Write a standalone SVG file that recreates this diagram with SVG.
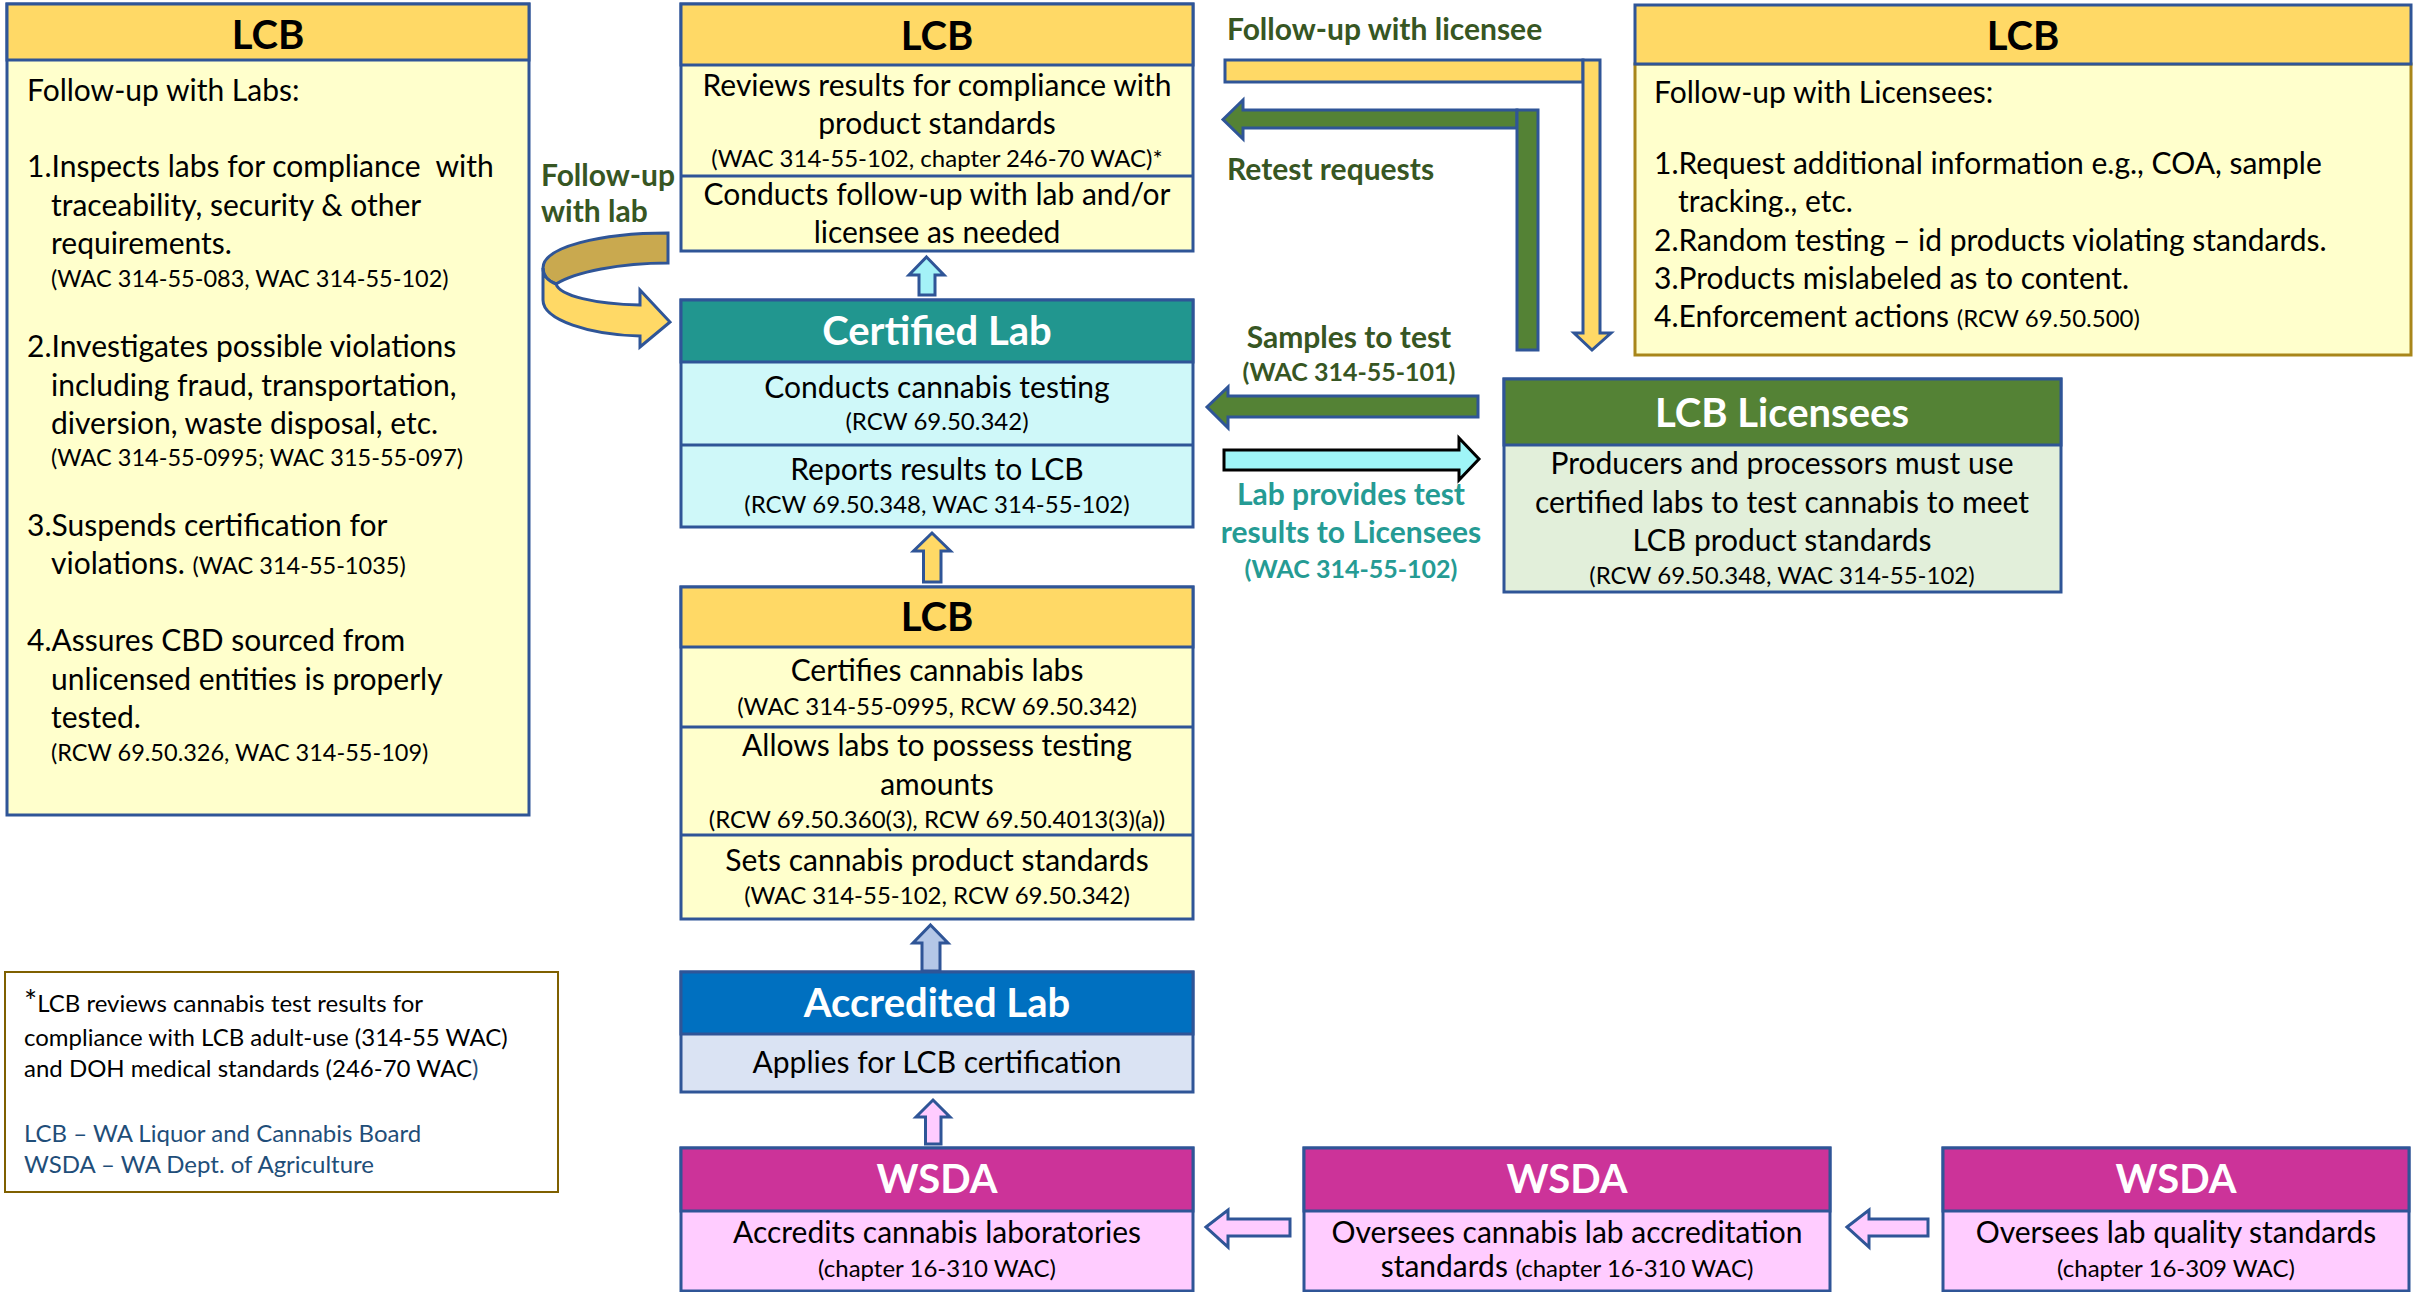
<svg xmlns="http://www.w3.org/2000/svg" width="2423" height="1292" viewBox="0 0 2423 1292">
<style>
text{font-family:Lato,"Liberation Sans",sans-serif;fill:#000}
.t{font-size:30px}
.s{font-size:24px}
.sl{font-size:23.5px}
.fn{font-size:24px}
.c{text-anchor:middle}
.hdr{font-size:40px;font-weight:700;text-anchor:middle}
.w{fill:#fff}
.lbl{font-size:30px;font-weight:700;fill:#375623}
.lbls{font-size:25px;font-weight:700;fill:#375623}
.teal{font-size:30px;font-weight:700;fill:#259b94}
.teals{font-size:25px;font-weight:700;fill:#259b94}
.bx{stroke:#2f5597;stroke-width:3}
.lcbh{fill:#ffd966}
.lcbb{fill:#ffffcc}
.ar{stroke:#2f5597;stroke-width:3;stroke-linejoin:miter}
.blue{fill:#1f4e79}
</style>

<g id="connectors">
  <!-- follow-up with lab curved arrow -->
  <path class="ar" d="M668,233 C600,233 543,247 543,268 C543,276 548,281 556,284 C575,272 620,263 668,263 Z" fill="#c9a94f"/>
  <path class="ar" d="M543,268 L543,300 C543,320 590,335 640,336 L640,347 L670,322 L640,290 L640,305 C595,304 560,296 556,284 C548,281 543,276 543,268 Z" fill="#ffd966"/>
  <!-- follow-up with licensee yellow L arrow -->
  <rect class="ar" x="1225" y="60" width="358" height="22" fill="#ffd966"/>
  <polygon class="ar" points="1583,60 1600,60 1600,333 1611,333 1592,350 1574,333 1583,333" fill="#ffd966"/>
  <!-- retest requests green L arrow -->
  <polygon class="ar" points="1223,119.5 1243,100 1243,110 1517,110 1517,128 1243,128 1243,139" fill="#548235"/>
  <rect class="ar" x="1517" y="110" width="21" height="240" fill="#548235"/>
  <!-- samples to test -->
  <polygon class="ar" points="1207,407 1228,387 1228,396 1478,396 1478,417 1228,417 1228,428" fill="#548235"/>
  <!-- lab provides results -->
  <polygon points="1224,450 1459,450 1459,438 1479,459 1459,480 1459,470 1224,470" fill="#9ff5f7" stroke="#000" stroke-width="3"/>
  <!-- vertical up arrows -->
  <polygon class="ar" points="926.5,257 944,275 935,275 935,295 919,295 919,275 909,275" fill="#a4f2f7"/>
  <polygon class="ar" points="932,533 950.5,551 941,551 941,582 923.5,582 923.5,551 913.5,551" fill="#ffd966"/>
  <polygon class="ar" points="930.5,925 948,943 940,943 940,971 922,971 922,943 913,943" fill="#b4c7e7"/>
  <polygon class="ar" points="933,1100 950,1117 941,1117 941,1144 925.5,1144 925.5,1117 916,1117" fill="#ffccff"/>
  <!-- WSDA left arrows -->
  <polygon class="ar" points="1206,1227 1228,1210 1228,1219 1290,1219 1290,1236 1228,1236 1228,1247" fill="#ffccff"/>
  <polygon class="ar" points="1847,1227 1869,1210 1869,1219 1928,1219 1928,1236 1869,1236 1869,1247" fill="#ffccff"/>
  <!-- labels -->
  <text class="lbl" x="1227" y="40">Follow-up with licensee</text>
  <text class="lbl" x="1227" y="180">Retest requests</text>
  <text class="lbl" x="541" y="186">Follow-up</text>
  <text class="lbl" x="541" y="222">with lab</text>
  <text class="lbl c" x="1349" y="348">Samples to test</text>
  <text class="lbls c" x="1349" y="381">(WAC 314-55-101)</text>
  <text class="teal c" x="1351" y="505">Lab provides test</text>
  <text class="teal c" x="1351" y="543">results to Licensees</text>
  <text class="teals c" x="1351" y="578">(WAC 314-55-102)</text>
</g>

<g id="lcb-labs">
  <rect class="bx lcbb" x="7" y="4" width="522" height="811"/>
  <rect class="bx lcbh" x="7" y="4" width="522" height="56"/>
  <text class="hdr" x="268" y="49">LCB</text>
  <text class="t" x="27" y="101">Follow-up with Labs:</text>
  <text class="t" x="27" y="177">1.Inspects labs for compliance&#160; with</text>
  <text class="t" x="51" y="216">traceability, security &amp; other</text>
  <text class="t" x="51" y="254">requirements.</text>
  <text class="sl" x="51" y="287">(WAC 314-55-083, WAC 314-55-102)</text>
  <text class="t" x="27" y="357">2.Investigates possible violations</text>
  <text class="t" x="51" y="396">including fraud, transportation,</text>
  <text class="t" x="51" y="434">diversion, waste disposal, etc.</text>
  <text class="sl" x="51" y="466">(WAC 314-55-0995; WAC 315-55-097)</text>
  <text class="t" x="27" y="536">3.Suspends certification for</text>
  <text class="t" x="51" y="574">violations. <tspan class="sl">(WAC 314-55-1035)</tspan></text>
  <text class="t" x="27" y="651">4.Assures CBD sourced from</text>
  <text class="t" x="51" y="690">unlicensed entities is properly</text>
  <text class="t" x="51" y="728">tested.</text>
  <text class="sl" x="51" y="761">(RCW 69.50.326, WAC 314-55-109)</text>
</g>

<g id="lcb-review">
  <rect class="bx lcbb" x="681" y="4" width="512" height="247"/>
  <rect class="bx lcbh" x="681" y="4" width="512" height="61"/>
  <line class="bx" x1="681" y1="176" x2="1193" y2="176"/>
  <text class="hdr" x="937" y="50">LCB</text>
  <text class="t c" x="937" y="96">Reviews results for compliance with</text>
  <text class="t c" x="937" y="134">product standards</text>
  <text class="s c" x="937" y="167">(WAC 314-55-102, chapter 246-70 WAC)*</text>
  <text class="t c" x="937" y="205">Conducts follow-up with lab and/or</text>
  <text class="t c" x="937" y="243">licensee as needed</text>
</g>

<g id="certified-lab">
  <rect class="bx" x="681" y="300" width="512" height="227" fill="#cff8f9"/>
  <rect class="bx" x="681" y="300" width="512" height="62" fill="#21968f"/>
  <line class="bx" x1="681" y1="445" x2="1193" y2="445"/>
  <text class="hdr w" x="937" y="345">Certified Lab</text>
  <text class="t c" x="937" y="398">Conducts cannabis testing</text>
  <text class="s c" x="937" y="430">(RCW 69.50.342)</text>
  <text class="t c" x="937" y="480">Reports results to LCB</text>
  <text class="s c" x="937" y="513">(RCW 69.50.348, WAC 314-55-102)</text>
</g>

<g id="lcb-certify">
  <rect class="bx lcbb" x="681" y="587" width="512" height="332"/>
  <rect class="bx lcbh" x="681" y="587" width="512" height="60"/>
  <line class="bx" x1="681" y1="727" x2="1193" y2="727"/>
  <line class="bx" x1="681" y1="835" x2="1193" y2="835"/>
  <text class="hdr" x="937" y="631">LCB</text>
  <text class="t c" x="937" y="681">Certifies cannabis labs</text>
  <text class="s c" x="937" y="715">(WAC 314-55-0995, RCW 69.50.342)</text>
  <text class="t c" x="937" y="756">Allows labs to possess testing</text>
  <text class="t c" x="937" y="795">amounts</text>
  <text class="s c" x="937" y="828">(RCW 69.50.360(3), RCW 69.50.4013(3)(a))</text>
  <text class="t c" x="937" y="871">Sets cannabis product standards</text>
  <text class="s c" x="937" y="904">(WAC 314-55-102, RCW 69.50.342)</text>
</g>

<g id="accredited-lab">
  <rect class="bx" x="681" y="972" width="512" height="120" fill="#dae3f3"/>
  <rect class="bx" x="681" y="972" width="512" height="62" fill="#0070c0"/>
  <text class="hdr w" x="937" y="1017">Accredited Lab</text>
  <text class="t c" x="937" y="1073">Applies for LCB certification</text>
</g>

<g id="wsda-accredits">
  <rect class="bx" x="681" y="1148" width="512" height="143" fill="#ffccff"/>
  <rect class="bx" x="681" y="1148" width="512" height="63" fill="#cc3399"/>
  <text class="hdr w" x="937" y="1193">WSDA</text>
  <text class="t c" x="937" y="1243">Accredits cannabis laboratories</text>
  <text class="s c" x="937" y="1277">(chapter 16-310 WAC)</text>
</g>

<g id="wsda-oversees-accreditation">
  <rect class="bx" x="1304" y="1148" width="526" height="143" fill="#ffccff"/>
  <rect class="bx" x="1304" y="1148" width="526" height="63" fill="#cc3399"/>
  <text class="hdr w" x="1567" y="1193">WSDA</text>
  <text class="t c" x="1567" y="1243">Oversees cannabis lab accreditation</text>
  <text class="t c" x="1567" y="1277">standards <tspan class="s">(chapter 16-310 WAC)</tspan></text>
</g>

<g id="wsda-quality">
  <rect class="bx" x="1943" y="1148" width="466" height="143" fill="#ffccff"/>
  <rect class="bx" x="1943" y="1148" width="466" height="63" fill="#cc3399"/>
  <text class="hdr w" x="2176" y="1193">WSDA</text>
  <text class="t c" x="2176" y="1243">Oversees lab quality standards</text>
  <text class="s c" x="2176" y="1277">(chapter 16-309 WAC)</text>
</g>

<g id="lcb-licensees">
  <rect class="bx" x="1504" y="379" width="557" height="213" fill="#e2efda"/>
  <rect class="bx" x="1504" y="379" width="557" height="66" fill="#548235"/>
  <text class="hdr w" x="1782" y="427">LCB Licensees</text>
  <text class="t c" x="1782" y="474">Producers and processors must use</text>
  <text class="t c" x="1782" y="513">certified labs to test cannabis to meet</text>
  <text class="t c" x="1782" y="551">LCB product standards</text>
  <text class="s c" x="1782" y="584">(RCW 69.50.348, WAC 314-55-102)</text>
</g>

<g id="lcb-licensee-followup">
  <rect x="1635" y="64" width="776" height="291" fill="#ffffcc" stroke="#a8861a" stroke-width="3"/>
  <rect class="bx lcbh" x="1635" y="5" width="776" height="59"/>
  <text class="hdr" x="2023" y="50">LCB</text>
  <text class="t" x="1654" y="103">Follow-up with Licensees:</text>
  <text class="t" x="1654" y="174">1.Request additional information e.g., COA, sample</text>
  <text class="t" x="1678" y="212">tracking., etc.</text>
  <text class="t" x="1654" y="251">2.Random testing – id products violating standards.</text>
  <text class="t" x="1654" y="289">3.Products mislabeled as to content.</text>
  <text class="t" x="1654" y="327">4.Enforcement actions <tspan class="s">(RCW 69.50.500)</tspan></text>
</g>

<g id="footnote">
  <rect x="5" y="972" width="553" height="220" fill="#fff" stroke="#7f6000" stroke-width="2"/>
  <text class="fn" x="24" y="1012"><tspan font-size="31">*</tspan>LCB reviews cannabis test results for</text>
  <text class="fn" x="24" y="1046">compliance with LCB adult-use (314-55 WAC)</text>
  <text class="fn" x="24" y="1077">and DOH medical standards (246-70 WAC<tspan class="blue">)</tspan></text>
  <text class="fn blue" x="24" y="1142">LCB – WA Liquor and Cannabis Board</text>
  <text class="fn blue" x="24" y="1173">WSDA – WA Dept. of Agriculture</text>
</g>
</svg>
